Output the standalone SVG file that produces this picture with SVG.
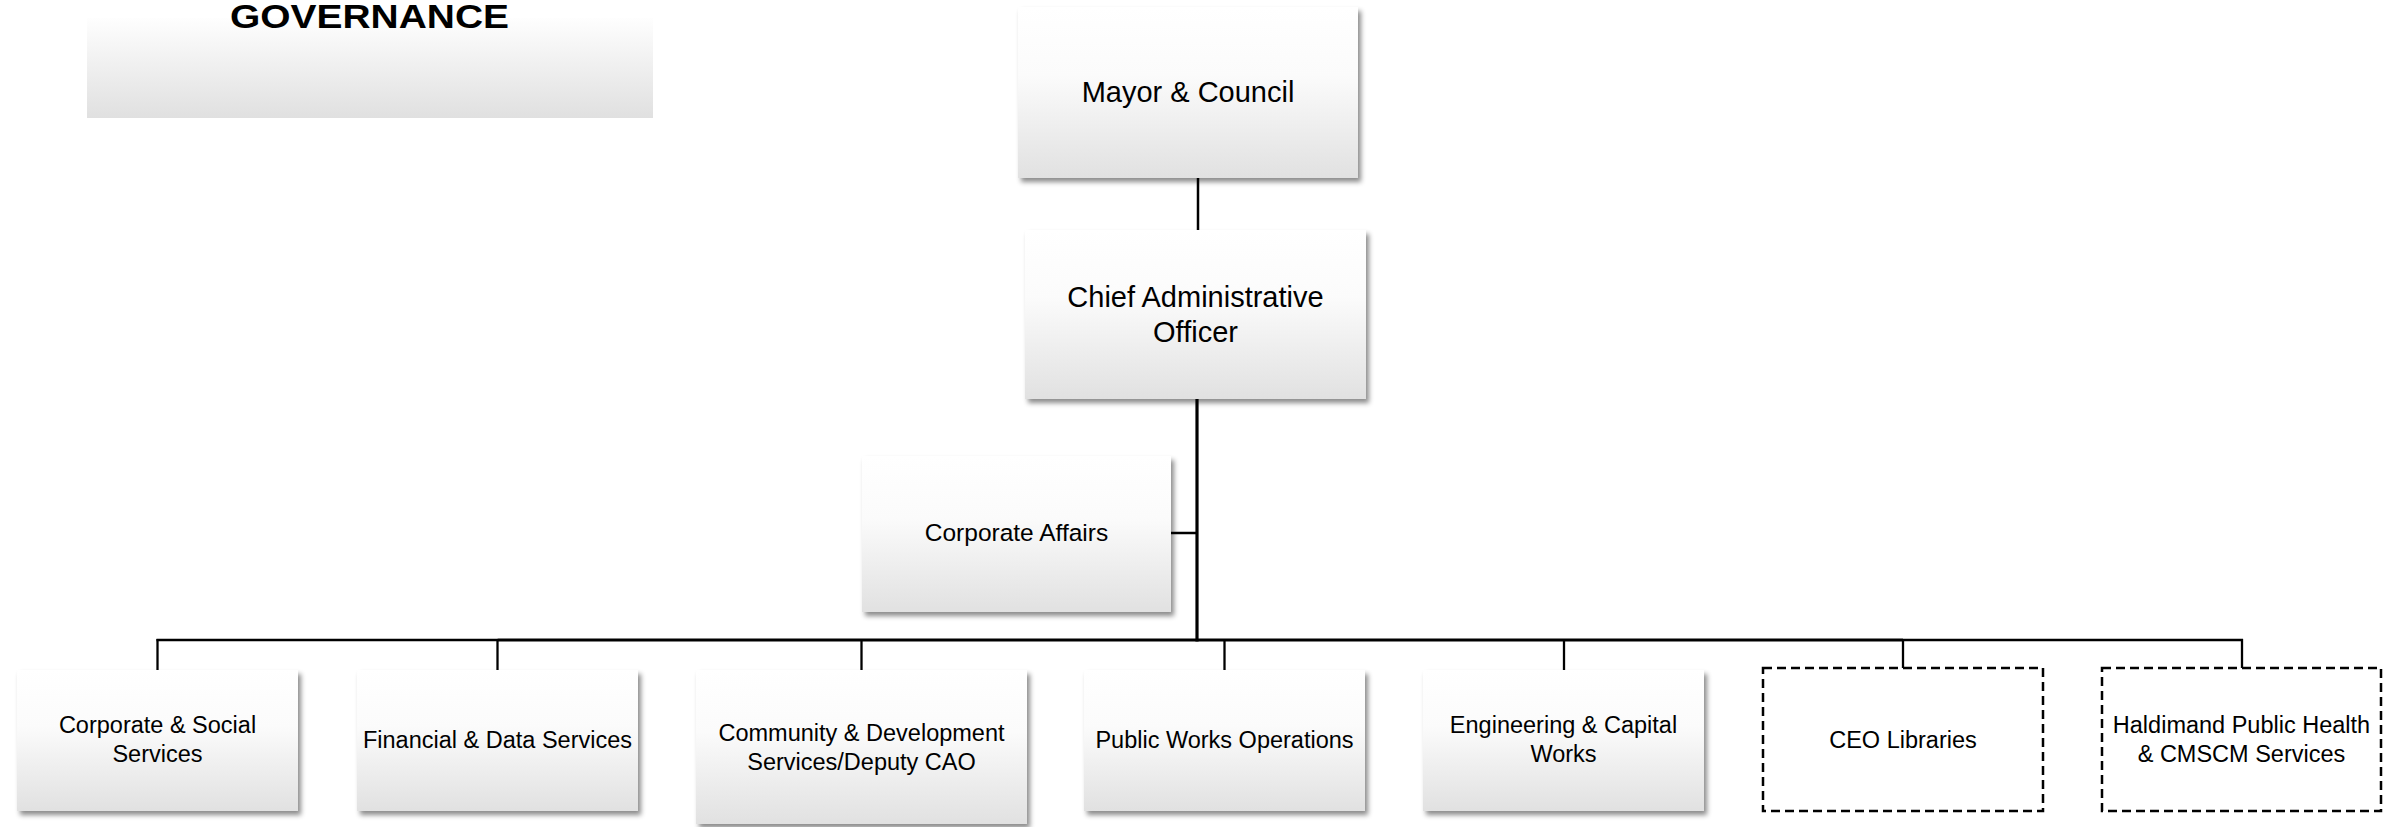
<svg xmlns="http://www.w3.org/2000/svg" width="2400" height="827" viewBox="0 0 2400 827">
  <defs>
    <linearGradient id="boxGrad" x1="0" y1="0" x2="0" y2="1">
      <stop offset="0" stop-color="#ffffff"/>
      <stop offset="0.4" stop-color="#fbfbfb"/>
      <stop offset="1" stop-color="#e1e1e1"/>
    </linearGradient>
    <linearGradient id="govGrad" x1="0" y1="0" x2="0" y2="1">
      <stop offset="0" stop-color="#fefefe"/>
      <stop offset="1" stop-color="#e0e0e0"/>
    </linearGradient>
    <filter id="shadow" x="-5%" y="-5%" width="115%" height="120%">
      <feDropShadow dx="3" dy="4" stdDeviation="2.5" flood-color="#000000" flood-opacity="0.45"/>
    </filter>
    <style>
      .box { fill: url(#boxGrad); filter: url(#shadow); }
      .dbox { fill: #ffffff; stroke: #000000; stroke-width: 2.5; stroke-dasharray: 9 5; }
      .t { font-family: "Liberation Sans", Arial, sans-serif; fill: #000000; text-anchor: middle; }
      .big { font-size: 29px; }
      .mid { font-size: 24.5px; }
      .sm { font-size: 23.5px; }
      .gov { font-family: "Liberation Sans", Arial, sans-serif; font-weight: bold; font-size: 34px; text-anchor: middle; fill: #000000; }
      .ln { stroke: #000000; fill: none; }
    </style>
  </defs>

  <rect width="2400" height="827" fill="#ffffff"/>

  <g id="governance">
    <rect x="87" y="18" width="566" height="100" fill="url(#govGrad)"/>
    <text class="gov" x="369.5" y="28" textLength="279" lengthAdjust="spacingAndGlyphs">GOVERNANCE</text>
  </g>

  <g id="connectors">
    <line class="ln" x1="1198" y1="178" x2="1198" y2="230" stroke-width="2.5"/>
    <line class="ln" x1="1197" y1="399" x2="1197" y2="641.5" stroke-width="3.2"/>
    <line class="ln" x1="1171" y1="533" x2="1197" y2="533" stroke-width="2.5"/>
    <line class="ln" x1="156.5" y1="640" x2="497.5" y2="640" stroke-width="2.3"/>
    <line class="ln" x1="497.5" y1="640" x2="1903" y2="640" stroke-width="3"/>
    <line class="ln" x1="1903" y1="640" x2="2243" y2="640" stroke-width="2.3"/>
    <line class="ln" x1="157.5" y1="639" x2="157.5" y2="670" stroke-width="2.3"/>
    <line class="ln" x1="497.5" y1="639" x2="497.5" y2="670" stroke-width="2.3"/>
    <line class="ln" x1="861.5" y1="639" x2="861.5" y2="670" stroke-width="2.3"/>
    <line class="ln" x1="1224.5" y1="639" x2="1224.5" y2="670" stroke-width="2.3"/>
    <line class="ln" x1="1564" y1="639" x2="1564" y2="670" stroke-width="2.3"/>
    <line class="ln" x1="1903" y1="639" x2="1903" y2="668" stroke-width="2.3"/>
    <line class="ln" x1="2242" y1="639" x2="2242" y2="668" stroke-width="2.3"/>
  </g>

  <g id="mayor-council">
    <rect class="box" x="1018" y="7" width="340" height="171"/>
    <text class="t big" x="1188" y="102">Mayor &amp; Council</text>
  </g>

  <g id="cao">
    <rect class="box" x="1025" y="230" width="341" height="169"/>
    <text class="t big" x="1195.5" y="307">Chief Administrative</text>
    <text class="t big" x="1195.5" y="342">Officer</text>
  </g>

  <g id="corporate-affairs">
    <rect class="box" x="862" y="456" width="309" height="156"/>
    <text class="t mid" x="1016.5" y="541">Corporate Affairs</text>
  </g>

  <g id="corporate-social">
    <rect class="box" x="17" y="670" width="281" height="141"/>
    <text class="t sm" x="157.5" y="733">Corporate &amp; Social</text>
    <text class="t sm" x="157.5" y="762">Services</text>
  </g>

  <g id="financial-data">
    <rect class="box" x="357" y="670" width="281" height="141"/>
    <text class="t sm" x="497.5" y="748">Financial &amp; Data Services</text>
  </g>

  <g id="community-development">
    <rect class="box" x="696" y="670" width="331" height="154"/>
    <text class="t sm" x="861.5" y="741">Community &amp; Development</text>
    <text class="t sm" x="861.5" y="770">Services/Deputy CAO</text>
  </g>

  <g id="public-works">
    <rect class="box" x="1084" y="670" width="281" height="141"/>
    <text class="t sm" x="1224.5" y="748">Public Works Operations</text>
  </g>

  <g id="engineering-capital">
    <rect class="box" x="1423" y="670" width="281" height="141"/>
    <text class="t sm" x="1563.5" y="733">Engineering &amp; Capital</text>
    <text class="t sm" x="1563.5" y="762">Works</text>
  </g>

  <g id="ceo-libraries">
    <rect class="dbox" x="1763" y="668" width="280" height="143"/>
    <text class="t sm" x="1903" y="748">CEO Libraries</text>
  </g>

  <g id="public-health">
    <rect class="dbox" x="2102" y="668" width="279" height="143"/>
    <text class="t sm" x="2241.5" y="733">Haldimand Public Health</text>
    <text class="t sm" x="2241.5" y="762">&amp; CMSCM Services</text>
  </g>
</svg>
